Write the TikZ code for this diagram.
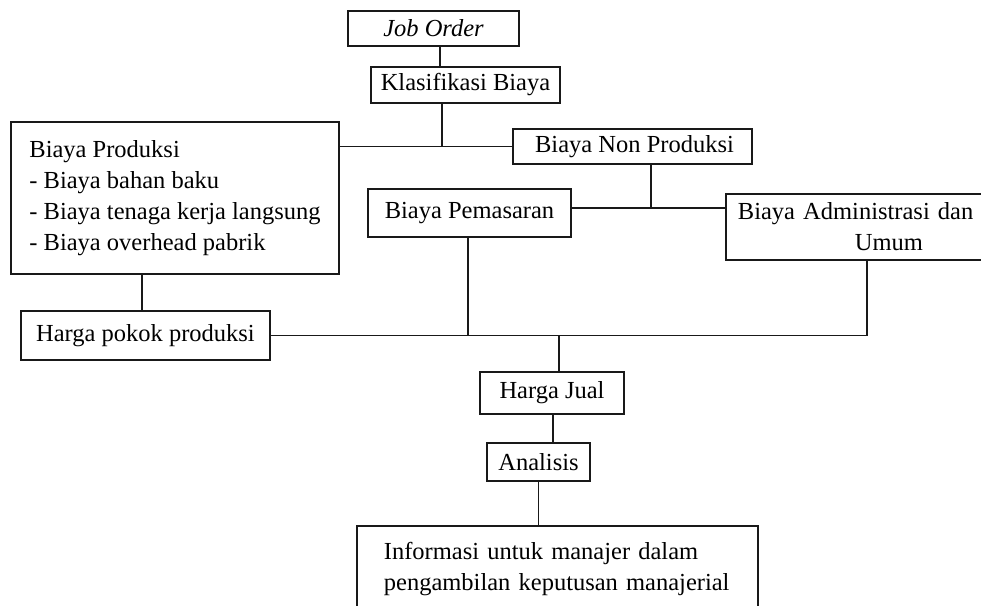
\documentclass[tikz,border=0pt]{standalone}
\usepackage{fontspec}
\setmainfont{Liberation Serif}
\tikzset{
  kotak/.style={draw=black!90, line width=1.8pt, inner sep=0pt, text=black,
    font=\fontsize{24.5}{31}\selectfont},
  garis/.style={draw=black!90, line width=1.8pt},
}

\begin{document}
\begin{tikzpicture}[x=1pt, y=-1pt]
    \useasboundingbox (0,0) rectangle (981,605);
    \clip (0,0) rectangle (981,605);

    % Awal dan klasifikasi
    \node[kotak, minimum width=171pt, minimum height=35pt] (joborder) at (433.5,28.5) {\itshape Job Order};
    \node[kotak, minimum width=189pt, minimum height=36pt] (klasifikasi) at (465.5,85) {Klasifikasi Biaya};

    % Biaya produksi dan non produksi
    \node[kotak, minimum width=328pt, minimum height=152pt, align=left] (produksi) at (175,198)
        {Biaya Produksi\\- Biaya bahan baku\\- Biaya tenaga kerja langsung\\- Biaya overhead pabrik};
    \node[kotak, minimum width=239pt, minimum height=35pt] (nonproduksi) at (632.5,146.5) {\hspace*{4pt}Biaya Non Produksi};

    % Cabang non produksi
    \node[kotak, minimum width=203pt, minimum height=48pt] (pemasaran) at (469.5,213) {Biaya Pemasaran};
    \node[kotak, anchor=north west, minimum width=290pt, minimum height=66pt, inner xsep=12pt,
        text width=266pt, align=left] (administrasi) at (725,193)
        {Biaya Administrasi dan\\\hspace*{117pt}Umum};
    \coordinate (cabang) at (651,208);

    % Harga
    \node[kotak, minimum width=249pt, minimum height=49pt] (hpp) at (145.5,335.5) {Harga pokok produksi};
    \node[kotak, minimum width=144pt, minimum height=42pt] (hargajual) at (552,393) {Harga Jual};
    \node[kotak, minimum width=103pt, minimum height=38pt] (analisis) at (538.5,462) {Analisis};
    \node[kotak, anchor=north west, minimum width=401pt, minimum height=86pt, inner xsep=27pt,
        text width=347pt, align=left] (informasi) at (356,525)
        {Informasi untuk manajer dalam\\pengambilan keputusan manajerial};

    % Garis penghubung
    \draw[garis] ([xshift=6.5pt]joborder.south) -- ([xshift=6.5pt]joborder.south |- klasifikasi.north);
    \draw[garis] ([xshift=-23.5pt]klasifikasi.south) -- ([xshift=-23.5pt]klasifikasi.south |- nonproduksi.west);
    \draw[garis] (produksi.east |- nonproduksi.west) -- (nonproduksi.west);
    \draw[garis] ([xshift=18.5pt]nonproduksi.south) -- (cabang);
    \draw[garis] (pemasaran.east |- cabang) -- (administrasi.west |- cabang);
    \draw[garis] ([xshift=-33pt]produksi.south) -- ([xshift=-33pt]produksi.south |- hpp.north);
    \draw[garis] ([xshift=-1.5pt]pemasaran.south) -- ([xshift=-1.5pt]pemasaran.south |- hpp.east);
    \draw[garis] ([xshift=-4pt]administrasi.south) -- ([xshift=-4pt]administrasi.south |- hpp.east);
    \draw[garis] (hpp.east) -- ([xshift=-4pt]administrasi.south |- hpp.east);
    \draw[garis] ([xshift=7pt]hargajual.north |- hpp.east) -- ([xshift=7pt]hargajual.north);
    \draw[garis] ([xshift=1pt]hargajual.south) -- ([xshift=1pt]hargajual.south |- analisis.north);
    \draw[garis] (analisis.south) -- (analisis.south |- informasi.north);
\end{tikzpicture}
\end{document}
